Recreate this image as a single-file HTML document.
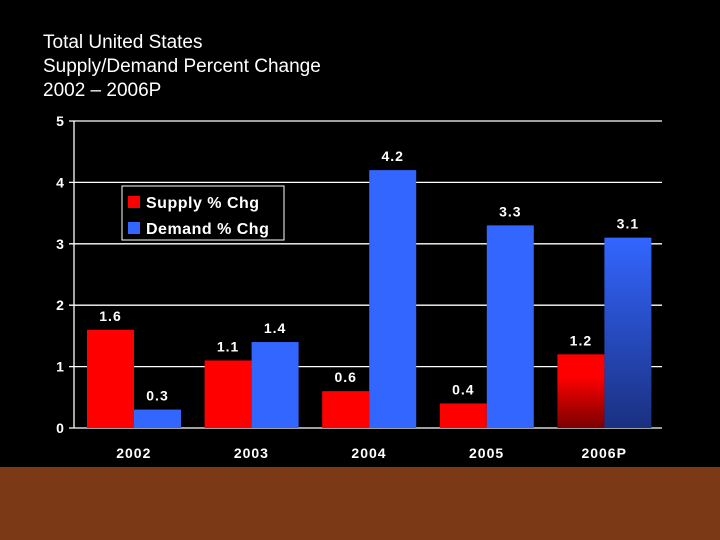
<!DOCTYPE html>
<html><head><meta charset="utf-8"><style>
body{margin:0;background:#000;width:720px;height:540px;overflow:hidden;font-family:"Liberation Sans",sans-serif}
#title{position:absolute;left:43px;top:31px;color:#fff;font-size:19px;line-height:24px}
#band{position:absolute;left:0;top:467px;width:720px;height:73px;background:#7c3916}
svg{position:absolute;left:0;top:0}
</style></head><body>
<div id="title">Total United States<br>Supply/Demand Percent Change<br>2002 – 2006P</div>
<div id="band"></div>
<svg id="chart" width="720" height="540">
<defs>
<linearGradient id="gr" x1="0" y1="0" x2="0" y2="1"><stop offset="0.3" stop-color="#ff0000"/><stop offset="1" stop-color="#7a0000"/></linearGradient>
<linearGradient id="gb" x1="0" y1="0" x2="0" y2="1"><stop offset="0" stop-color="#3366ff"/><stop offset="1" stop-color="#1a3080"/></linearGradient>
</defs>
</svg>
<script>
const categories=["2002","2003","2004","2005","2006P"];
const supply=[1.6,1.1,0.6,0.4,1.2];
const demand=[0.3,1.4,4.2,3.3,3.1];
const yTicks=[0,1,2,3,4,5];
const NS="http://www.w3.org/2000/svg";
const svg=document.getElementById('chart');
const X0=74,X1=662,Y0=428,Y1=121,YMAX=5;
const y=v=>Y0-(Y0-Y1)*v/YMAX;
const gw=(X1-X0)/categories.length;
function mk(t,a,txt){const e=document.createElementNS(NS,t);for(const k in a)e.setAttribute(k,a[k]);if(txt!==undefined)e.textContent=txt;svg.appendChild(e);return e;}
yTicks.forEach(t=>{
 const l=mk('line',{x1:69,x2:X1,y1:y(t),y2:y(t),stroke:'#fff','stroke-width':1.3});
 
 
 const tx=mk('text',{x:60,y:y(t)+5,fill:'#fff','font-size':14,'font-weight':'bold','text-anchor':'middle'},t);
 
 
});
const ax=mk('line',{x1:X0,x2:X0,y1:Y1,y2:Y0,stroke:'#fff','stroke-width':1.3});


const bw=47;
categories.forEach((c,i)=>{
 const gx=X0+gw*i;
 const last=i===categories.length-1;
 const rx=gx+13, bx=rx+bw;
 const r=mk('rect',{x:rx,y:y(supply[i]),width:bw,height:Y0-y(supply[i]),fill:last?'url(#gr)':'#ff0000'});
 
 
 const b=mk('rect',{x:bx,y:y(demand[i]),width:bw,height:Y0-y(demand[i]),fill:last?'url(#gb)':'#3366ff'});
 
 
 const sl=mk('text',{x:rx+bw/2,y:y(supply[i])-9,fill:'#fff','font-size':14,'font-weight':'bold','text-anchor':'middle','letter-spacing':1},supply[i].toFixed(1));
 
 
 const dl=mk('text',{x:bx+bw/2,y:y(demand[i])-9,fill:'#fff','font-size':14,'font-weight':'bold','text-anchor':'middle','letter-spacing':1},demand[i].toFixed(1));
 
 
 const cl=mk('text',{x:gx+gw/2+1,y:458,fill:'#fff','font-size':14,'font-weight':'bold','text-anchor':'middle','letter-spacing':1},c);
 
 
});
const lg=mk('rect',{x:122,y:186,width:162,height:54,fill:'#000',stroke:'#fff','stroke-width':1});


[["Supply % Chg","#ff0000",208],["Demand % Chg","#3366ff",234]].forEach(([t,c,yy],k)=>{
 const s=mk('rect',{x:128,y:yy-12,width:12,height:12,fill:c});
 
 
 const tx=mk('text',{x:146,y:yy,fill:'#fff','font-size':16,'font-weight':'bold','letter-spacing':0.5},t);
 
 
});
</script>
</body></html>
